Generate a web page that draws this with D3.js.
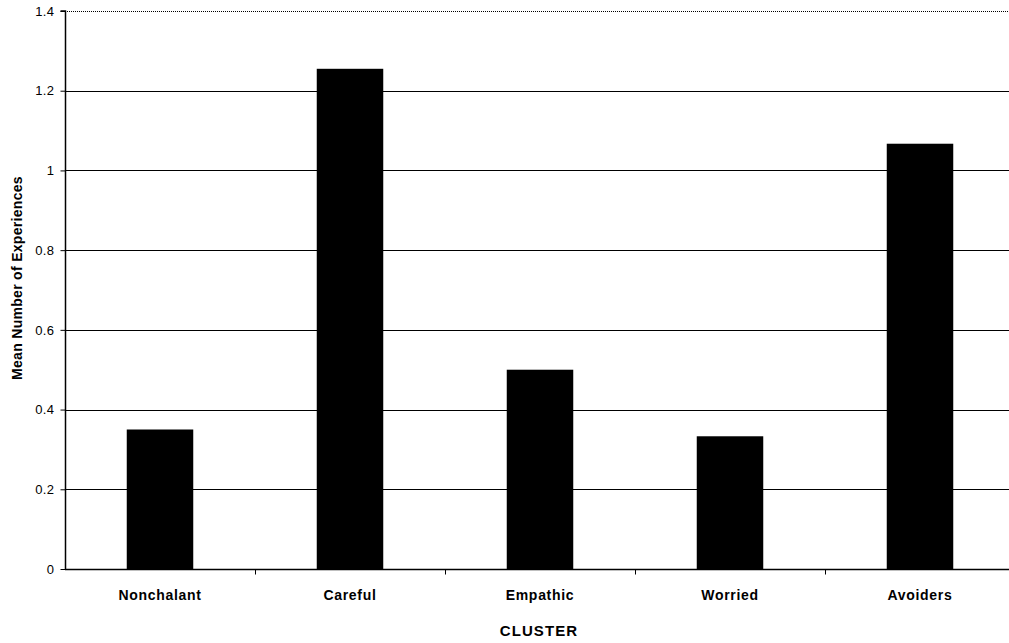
<!DOCTYPE html>
<html>
<head>
<meta charset="utf-8">
<script src="https://cdn.jsdelivr.net/npm/d3@7"></script>
<style>
  body { margin: 0; background: #fff; }
  svg { display: block; font-family: "Liberation Sans", Arial, sans-serif; }
</style>
</head>
<body>
<svg id="chart" width="1009" height="643"></svg>
<script>
// Mean number of experiences per cluster
const categories = ["Nonchalant", "Careful", "Empathic", "Worried", "Avoiders"];
const values = [0.35, 1.255, 0.5, 0.333, 1.067];
const yTicks = [0, 0.2, 0.4, 0.6, 0.8, 1, 1.2, 1.4];

const svg = d3.select("#chart");
const margin = { left: 65, top: 11, right: -6, bottom: 74 };
const W = 1009, H = 643;
const x0 = margin.left, x1 = W - margin.right;
const y0 = H - margin.bottom, y1 = margin.top;

const x = d3.scaleBand().domain(categories).range([x0, x1]).paddingInner(0.65).paddingOuter(0.325);
const xb = d3.scaleBand().domain(categories).range([x0, x1]);
const y = d3.scaleLinear().domain([0, 1.4]).range([y0, y1]);

// horizontal gridlines
svg.append("g").selectAll("line")
  .data(yTicks.filter(t => t > 0))
  .join("line")
  .attr("x1", x0).attr("x2", x1)
  .attr("y1", d => Math.round(y(d)) + 0.5).attr("y2", d => Math.round(y(d)) + 0.5)
  .attr("stroke", "#000")
  .attr("stroke-width", 1)
  .attr("stroke-dasharray", d => d === 1.4 ? "1,1" : null);

// bars
svg.append("g").selectAll("rect")
  .data(values)
  .join("rect")
  .attr("x", (d, i) => x(categories[i]))
  .attr("width", x.bandwidth())
  .attr("y", d => y(d))
  .attr("height", d => y(0) - y(d))
  .attr("fill", "#000");

// y axis
const yAxis = d3.axisLeft(y).tickValues(yTicks).tickSize(5).tickPadding(6)
  .tickFormat(d => d3.format("")(+d.toFixed(1)));
const gy = svg.append("g").attr("transform", `translate(${x0 + 0.5},0)`).call(yAxis);
gy.select(".domain").attr("stroke-width", 1.5).attr("d", `M-5,${y1}H0V${y0}`);
gy.selectAll(".tick text").attr("font-size", 13).attr("fill", "#000")
  .attr("letter-spacing", 0.4)
  .attr("font-family", "Liberation Sans, Arial, sans-serif");

// x axis with ticks at category boundaries
const gx = svg.append("g").attr("transform", `translate(0,${y0 + 0.5})`);
gx.append("line").attr("x1", x0).attr("x2", x1).attr("stroke", "#000").attr("stroke-width", 1.5);
gx.selectAll("line.tick")
  .data(categories.slice(1))
  .join("line").attr("class", "tick")
  .attr("x1", d => xb(d) + 0.5).attr("x2", d => xb(d) + 0.5)
  .attr("y1", 0).attr("y2", 5)
  .attr("stroke", "#000");
gx.selectAll("text")
  .data(categories)
  .join("text")
  .attr("x", d => xb(d) + xb.bandwidth() / 2)
  .attr("y", 30)
  .attr("text-anchor", "middle")
  .attr("font-size", 14)
  .attr("letter-spacing", 0.7)
  .attr("font-weight", "bold")
  .text(d => d);

// axis titles
svg.append("text")
  .attr("x", 539).attr("y", 636)
  .attr("text-anchor", "middle")
  .attr("font-size", 15).attr("font-weight", "bold")
  .attr("letter-spacing", 1.1)
  .text("CLUSTER");

svg.append("text")
  .attr("transform", `translate(22,${(y0 + y1) / 2 - 12}) rotate(-90)`)
  .attr("text-anchor", "middle")
  .attr("font-size", 14).attr("font-weight", "bold")
  .attr("letter-spacing", 0.3)
  .text("Mean Number of Experiences");
</script>
</body>
</html>
